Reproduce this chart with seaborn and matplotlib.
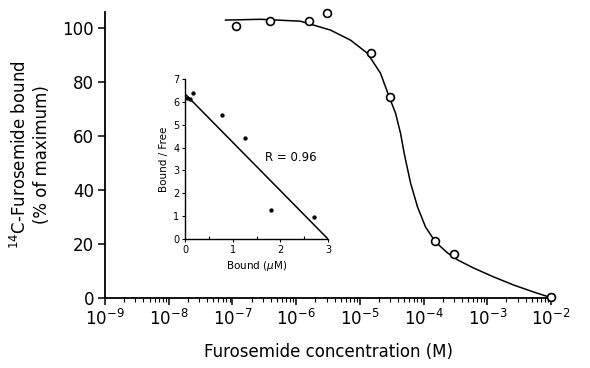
import numpy as np
import pandas as pd
import matplotlib
matplotlib.use("Agg")
import matplotlib.pyplot as plt
import seaborn as sns
from matplotlib.ticker import LogLocator, FixedLocator, NullFormatter

# ---- data ----
conc = [1.15e-7, 3.9e-7, 1.6e-6, 3.0e-6, 1.5e-5, 3.0e-5, 1.5e-4, 3.0e-4, 1.0e-2]
bound_pct = [100.7, 102.6, 102.6, 105.5, 90.7, 74.4, 21.1, 16.3, 0.4]

curve_logx = [-7.113, -6.563, -5.934, -5.462, -5.148, -4.881, -4.676, -4.550, -4.440,
              -4.362, -4.299, -4.204, -4.094, -3.969, -3.811, -3.623, -3.465, -3.214,
              -2.899, -2.585, -2.270, -2.035]
curve_y = [103.0, 103.3, 102.6, 99.3, 95.6, 90.7, 83.3, 75.2, 68.5,
           61.1, 53.0, 42.6, 33.7, 26.3, 20.7, 16.7, 14.1, 11.1,
           7.8, 4.8, 2.2, 0.4]

scat_bound = [0.05, 0.10, 0.17, 0.78, 1.25, 1.80, 2.71]
scat_ratio = [6.18, 6.12, 6.37, 5.43, 4.42, 1.25, 0.96]
fit_bound = [0.0, 3.0]
fit_ratio = [6.35, 0.0]

xtick_exp = [-9, -8, -7, -6, -5, -4, -3, -2]
yticks = [0, 20, 40, 60, 80, 100]

sns.set_theme(style="ticks")
plt.rcParams['font.family'] = ['DejaVu Sans']
plt.rcParams.update({"text.color": "black", "axes.labelcolor": "black",
                     "xtick.color": "black", "ytick.color": "black"})

fig = plt.figure(figsize=(5.9, 3.68), dpi=100)
ax = fig.add_axes([105/590, 1-298/368, (551-105)/590, (298-12)/368])

df_main = pd.DataFrame({"conc": conc, "pct": bound_pct})
df_curve = pd.DataFrame({"x": [10**v for v in curve_logx], "y": curve_y})

sns.lineplot(data=df_curve, x="x", y="y", ax=ax, color="black", lw=1.1, sort=True,
             solid_joinstyle="round")
sns.scatterplot(data=df_main, x="conc", y="pct", ax=ax, marker="o", s=32,
                facecolors="white", edgecolor="black", linewidth=1.2, zorder=5, clip_on=False)
ax.set_xscale("log")
ax.set_xlim(1e-9, 1e-2)
ax.set_ylim(0, 106)
ax.set_xticks([10.0**e for e in xtick_exp])
ax.set_xticklabels([r"$10^{%d}$" % e for e in xtick_exp], fontsize=12)
ax.xaxis.set_minor_locator(LogLocator(base=10, subs=np.arange(2, 10), numticks=20))
ax.xaxis.set_minor_formatter(NullFormatter())
ax.set_yticks(yticks)
ax.set_yticklabels([str(v) for v in yticks], fontsize=12)
ax.tick_params(axis="both", which="major", direction="out", length=5, width=1.1, pad=3)
ax.tick_params(axis="x", which="minor", direction="out", length=3, width=0.8)
for s in ["top", "right"]:
    ax.spines[s].set_visible(False)
for s in ["left", "bottom"]:
    ax.spines[s].set_color("black")
    ax.spines[s].set_linewidth(1.3)
ax.set_xlabel("Furosemide concentration (M)", fontsize=12, labelpad=10)
ax.set_ylabel("$^{14}$C-Furosemide bound\n(% of maximum)", fontsize=12, labelpad=8)

# ---- inset ----
ins = fig.add_axes([185/590, 1-239/368, (328-185)/590, (239-79)/368])
df_s = pd.DataFrame({"b": scat_bound, "r": scat_ratio})
df_f = pd.DataFrame({"b": fit_bound, "r": fit_ratio})
sns.lineplot(data=df_f, x="b", y="r", ax=ins, color="black", lw=1.1)
sns.scatterplot(data=df_s, x="b", y="r", ax=ins, color="black", s=8, edgecolor="black", zorder=5, clip_on=False)
ins.set_xlim(0, 3)
ins.set_ylim(0, 7)
ins.set_xticks([0, 1, 2, 3])
ins.set_xticklabels(["0", "1", "2", "3"], fontsize=7)
ins.xaxis.set_minor_locator(FixedLocator([0.5, 1.5, 2.5]))
ins.set_yticks(range(0, 8))
ins.set_yticklabels([str(v) for v in range(0, 8)], fontsize=7)
ins.tick_params(axis="both", which="major", direction="out", length=2.5, width=0.8, pad=1.5)
ins.tick_params(axis="x", which="minor", direction="in", length=2, width=0.8)
ins.patch.set_alpha(0)
for s in ["top", "right"]:
    ins.spines[s].set_visible(False)
for s in ["left", "bottom"]:
    ins.spines[s].set_color("black")
    ins.spines[s].set_linewidth(1.0)
ins.set_xlabel(r"Bound ($\mu$M)", fontsize=7.5, labelpad=3)
ins.set_ylabel("Bound / Free", fontsize=7.5, labelpad=3)
ins.text(1.68, 3.55, "R = 0.96", fontsize=8.5, ha="left", va="center")

fig.savefig("out.png", dpi=100)
